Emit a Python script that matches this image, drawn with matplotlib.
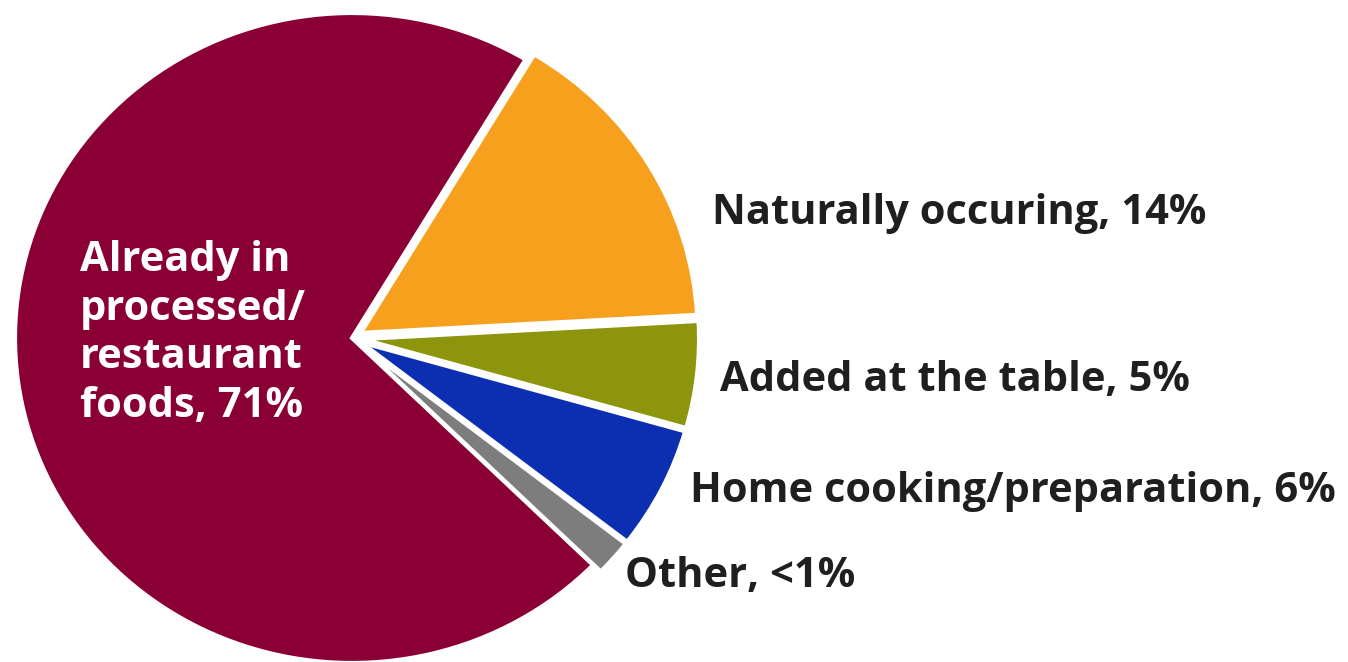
import matplotlib.pyplot as plt

# Sources of sodium, shares (counter-clockwise from the top boundary)
sources = ['Already in processed/restaurant foods', 'Other', 'Home cooking/preparation',
           'Added at the table', 'Naturally occuring']
shares = [71.3, 1.8, 6.1, 5.3, 15.5]
colors = ['#8a0035', '#7d7d7d', '#0b2fb0', '#8c950c', '#f6a01d']
explode = [0, 0.03, 0.03, 0.03, 0.03]

# Outside labels (text, left x px, centre y px)
outer_labels = ['Naturally occuring, 14%', 'Added at the table, 5%',
                'Home cooking/preparation, 6%', 'Other, <1%']
outer_x = [712, 720, 690, 625]
outer_y = [214, 380, 492, 577]
inner_label = 'Already in\nprocessed/\nrestaurant\nfoods, 71%'

W, H = 1348, 662
fig = plt.figure(figsize=(W / 100, H / 100), dpi=100)
ax = fig.add_axes([0, 0, 1, 1])

ax.pie(shares, colors=colors, explode=explode, startangle=59, counterclock=True,
       wedgeprops=dict(edgecolor='white', linewidth=3))

# pie centre sits at (352, 338) px, radius ~337 px wide and ~325 px tall
ax.set_aspect('auto')
ax.set_xlim(-352 / 337, (W - 352) / 337)
ax.set_ylim(-(H - 338) / 325, 338 / 325)
ax.axis('off')

font = dict(family=['Open Sans', 'DejaVu Sans'], fontweight='bold', fontsize=30)
for txt, x, y in zip(outer_labels, outer_x, outer_y):
    ax.text(x / W, 1 - y / H, txt, transform=ax.transAxes, ha='left', va='center',
            color='#1f1f1f', **font)

ax.text(80 / W, 1 - 240 / H, inner_label, transform=ax.transAxes, ha='left', va='top',
        color='white', linespacing=1.25, **font)

fig.savefig('out.png', dpi=100)
